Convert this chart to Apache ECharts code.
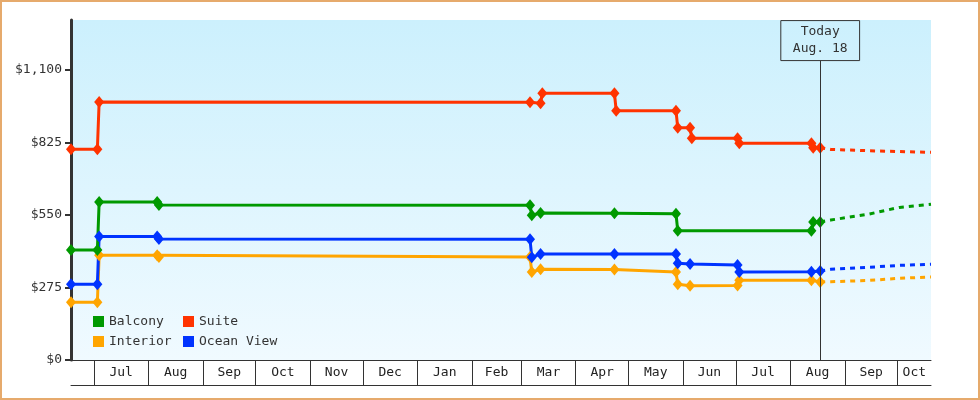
<!DOCTYPE html>
<html>
<head>
<meta charset="utf-8">
<script src="https://cdn.jsdelivr.net/npm/echarts@6/dist/echarts.min.js"></script>
<style>
  html, body { margin: 0; padding: 0; background: #fff; }
  #graph_container { position: absolute; left: 0; top: 0; width: 980px; height: 400px; }
  #frame { position: absolute; left: 0; top: 0; width: 980px; height: 400px; box-sizing: border-box;
           border: 2px solid #e6aa6c; pointer-events: none; }
</style>
</head>
<body>
<div id="graph_container"></div>
<div id="frame"></div>
<script>
// axis range and the "today" marker
var startDate = '2016-06-18';
var endDate = '2017-10-20';
var todayDate = '2017-08-18';
var todayText = 'Today\nAug. 18';

// month boundaries and their labels
var monthStarts = ['2016-07-01', '2016-08-01', '2016-09-01', '2016-10-01', '2016-11-01', '2016-12-01',
                   '2017-01-01', '2017-02-01', '2017-03-01', '2017-04-01', '2017-05-01', '2017-06-01',
                   '2017-07-01', '2017-08-01', '2017-09-01', '2017-10-01'];
var monthLabels = ['Jul', 'Aug', 'Sep', 'Oct', 'Nov', 'Dec', 'Jan', 'Feb', 'Mar', 'Apr', 'May', 'Jun',
                   'Jul', 'Aug', 'Sep', 'Oct'];
var priceTicks = [0, 275, 550, 825, 1100];

// price history (date, price)
var balcony = [['2016-06-18', 417], ['2016-07-03', 417], ['2016-07-04', 599], ['2016-08-06', 599],
               ['2016-08-07', 588], ['2017-03-06', 587], ['2017-03-07', 549], ['2017-03-12', 558],
               ['2017-04-23', 557], ['2017-05-28', 555], ['2017-05-29', 490], ['2017-08-13', 490],
               ['2017-08-14', 524], ['2017-08-18', 524]];
var suite = [['2016-06-18', 800], ['2016-07-03', 800], ['2016-07-04', 979], ['2017-03-06', 978],
             ['2017-03-12', 974], ['2017-03-13', 1012], ['2017-04-23', 1012], ['2017-04-24', 946],
             ['2017-05-28', 946], ['2017-05-29', 881], ['2017-06-05', 881], ['2017-06-06', 841],
             ['2017-07-02', 841], ['2017-07-03', 822], ['2017-08-13', 822], ['2017-08-14', 805],
             ['2017-08-18', 805]];
var interior = [['2016-06-18', 219], ['2016-07-03', 219], ['2016-07-04', 397], ['2016-08-06', 397],
                ['2016-08-07', 391], ['2017-03-06', 391], ['2017-03-07', 334], ['2017-03-12', 344],
                ['2017-04-23', 343], ['2017-05-28', 334], ['2017-05-29', 287], ['2017-06-05', 282],
                ['2017-07-02', 283], ['2017-07-03', 303], ['2017-08-13', 303], ['2017-08-18', 296]];
var oceanView = [['2016-06-18', 287], ['2016-07-03', 287], ['2016-07-04', 469], ['2016-08-06', 469],
                 ['2016-08-07', 459], ['2017-03-06', 458], ['2017-03-07', 390], ['2017-03-12', 402],
                 ['2017-04-23', 402], ['2017-05-28', 402], ['2017-05-29', 367], ['2017-06-05', 364],
                 ['2017-07-02', 360], ['2017-07-03', 334], ['2017-08-13', 335], ['2017-08-18', 338]];

// forecast after today (dashed)
var balconyForecast = [['2017-08-18', 524], ['2017-08-24', 531], ['2017-09-15', 554], ['2017-10-02', 579], ['2017-10-20', 591]];
var suiteForecast = [['2017-08-18', 805], ['2017-08-24', 799], ['2017-09-15', 794], ['2017-10-02', 791], ['2017-10-20', 788]];
var interiorForecast = [['2017-08-18', 296], ['2017-08-24', 297], ['2017-09-15', 302], ['2017-10-02', 310], ['2017-10-20', 315]];
var oceanViewForecast = [['2017-08-18', 338], ['2017-08-24', 344], ['2017-09-15', 352], ['2017-10-02', 359], ['2017-10-20', 363]];

var colors = { Balcony: '#009900', Suite: '#ff3300', Interior: '#ffa500', 'Ocean View': '#0033ff' };
var FONT = 'DejaVu Sans Mono';

// dates become plain numbers (ms) on a linear value axis
function t(s) {
    var p = s.split('-').map(Number);
    return Date.UTC(p[0], p[1] - 1, p[2]);
}
function toPoints(arr) {
    return arr.map(function (d) { return [t(d[0]), d[1]]; });
}
function money(v) {
    return '$' + String(v).replace(/\B(?=(\d{3})+(?!\d))/g, ',');
}

var minT = t(startDate), maxT = t(endDate);
var tickValues = monthStarts.map(t);
// labels sit in the middle of each month box
var labelValues = tickValues.map(function (v, i) {
    var next = i + 1 < tickValues.length ? tickValues[i + 1] : maxT;
    return (v + next) / 2;
});
var labelByValue = {};
labelValues.forEach(function (v, i) { labelByValue[v] = monthLabels[i]; });

function historySeries(name, data) {
    return {
        name: name,
        type: 'line',
        data: toPoints(data),
        symbol: 'diamond',
        symbolSize: [10, 12],
        showAllSymbol: true,
        itemStyle: { color: colors[name] },
        lineStyle: { width: 3, color: colors[name] },
        z: 3
    };
}
function forecastSeries(name, data) {
    return {
        name: name + ' forecast',
        type: 'line',
        data: toPoints(data),
        symbol: 'none',
        itemStyle: { color: colors[name] },
        lineStyle: { width: 3, color: colors[name], type: [5, 5] },
        z: 2
    };
}

function render_graph() {
    var dom = document.getElementById('graph_container');
    var myChart = echarts.init(dom);
    var legendCommon = {
        orient: 'vertical',
        icon: 'rect',
        itemWidth: 11,
        itemHeight: 11,
        itemGap: 7,
        padding: 0,
        selectedMode: false,
        textStyle: { fontFamily: FONT, fontSize: 13, color: '#333' }
    };
    var option = {
        animation: false,
        grid: {
            left: 71, right: 49, top: 20, bottom: 40,
            show: true,
            borderWidth: 0,
            backgroundColor: new echarts.graphic.LinearGradient(0, 0, 0, 1, [
                { offset: 0, color: '#ccf0fd' },
                { offset: 1, color: '#f0faff' }
            ])
        },
        legend: [
            Object.assign({ data: ['Balcony', 'Interior'], left: 93, top: 315 }, legendCommon),
            Object.assign({ data: ['Suite', 'Ocean View'], left: 183, top: 315 }, legendCommon)
        ],
        xAxis: [
            {
                type: 'value',
                min: minT,
                max: maxT,
                position: 'bottom',
                splitLine: { show: false },
                axisLine: { show: true, lineStyle: { color: '#333', width: 1 } },
                axisTick: { show: true, customValues: tickValues, length: 25, lineStyle: { color: '#333', width: 1 } },
                axisLabel: {
                    customValues: labelValues,
                    formatter: function (v) { return labelByValue[v] || ''; },
                    margin: 6,
                    fontFamily: FONT,
                    fontSize: 13,
                    color: '#222'
                }
            },
            {
                // bottom rule under the month boxes
                type: 'value',
                min: minT,
                max: maxT,
                position: 'bottom',
                offset: 25,
                splitLine: { show: false },
                axisLine: { show: true, lineStyle: { color: '#333', width: 1 } },
                axisTick: { show: false },
                axisLabel: { show: false }
            }
        ],
        yAxis: {
            type: 'value',
            min: 0,
            max: 1290,
            splitLine: { show: false },
            axisLine: { show: true, lineStyle: { color: '#333', width: 3 } },
            axisTick: { show: true, customValues: priceTicks, length: 6, lineStyle: { color: '#333', width: 2 } },
            axisLabel: {
                customValues: priceTicks,
                formatter: money,
                margin: 9,
                fontFamily: FONT,
                fontSize: 13,
                color: '#333'
            }
        },
        series: [
            forecastSeries('Interior', interiorForecast),
            forecastSeries('Ocean View', oceanViewForecast),
            forecastSeries('Balcony', balconyForecast),
            forecastSeries('Suite', suiteForecast),
            historySeries('Interior', interior),
            historySeries('Ocean View', oceanView),
            historySeries('Balcony', balcony),
            Object.assign(historySeries('Suite', suite), {
                markLine: {
                    silent: true,
                    symbol: 'none',
                    lineStyle: { color: '#333', width: 1, type: 'solid' },
                    label: {
                        show: true,
                        position: 'end',
                        distance: 0,
                        formatter: todayText,
                        fontFamily: FONT,
                        fontSize: 13,
                        lineHeight: 17,
                        color: '#333',
                        align: 'center',
                        borderColor: '#333',
                        borderWidth: 1,
                        padding: [3, 12, 3, 12]
                    },
                    data: [[{ coord: [t(todayDate), 0] }, { coord: [t(todayDate), 1136] }]]
                }
            })
        ]
    };
    myChart.setOption(option, true);
}
render_graph();
</script>
</body>
</html>
